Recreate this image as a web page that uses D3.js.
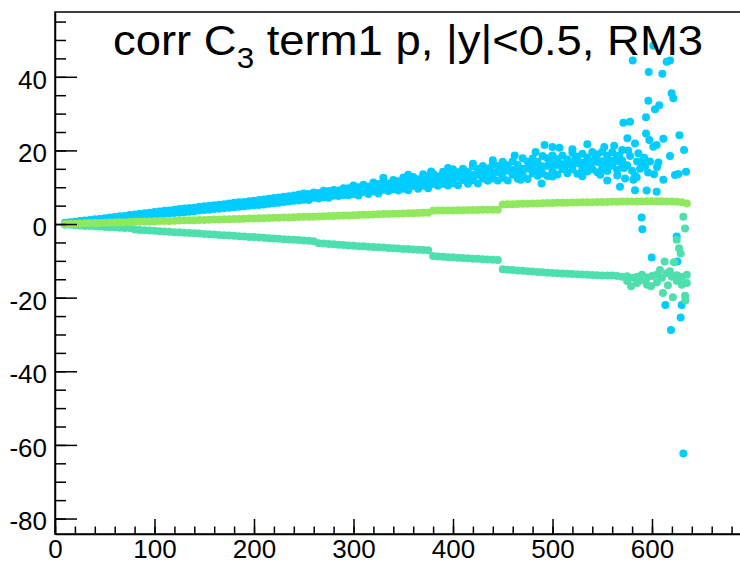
<!DOCTYPE html>
<meta charset="utf-8">
<script src="https://d3js.org/d3.v7.min.js"></script>
<style>
  body { margin: 0; background: #fff; }
</style>
<div id="chart"></div>
<script>

// bin centres shared by the three series
var xs = [10,15,20,25,30,35,40,45,50,55,60,65,70,75,
  80,85,90,95,100,105,110,115,120,125,130,135,140,145,
  150,155,160,165,170,175,180,185,190,195,200,205,210,215,
  220,225,230,235,240,245,250,255,260,265,270,275,280,285,
  290,295,300,305,310,315,320,325,330,335,340,345,350,355,
  360,365,370,375,380,385,390,395,400,405,410,415,420,425,
  430,435,440,445,450,455,460,465,470,475,480,485,490,495,
  500,505,510,515,520,525,530,535,540,545,550,555,560,565,
  570,575,580,585,590,595,600,605,610,615,620,625,630,635];

var green = [0.0,0.05,0.1,0.15,0.2,0.25,0.3,0.3,0.35,0.4,0.45,0.5,0.5,0.55,
  0.6,0.65,0.7,0.7,0.75,0.8,0.8,0.85,0.9,0.95,1.0,1.0,1.05,1.1,
  1.1,1.15,1.2,1.25,1.3,1.3,1.35,1.4,1.45,1.5,1.5,1.55,1.6,1.65,
  1.7,1.7,1.75,1.8,1.85,1.9,1.95,2.0,2.0,2.05,2.1,2.15,2.2,2.25,
  2.3,2.35,2.4,2.45,2.5,2.55,2.6,2.65,2.7,2.75,2.8,2.8,2.85,2.9,
  2.95,3.0,3.05,3.1,3.6,3.65,3.65,3.7,3.7,3.75,3.75,3.8,3.8,3.8,
  3.85,3.85,3.9,3.9,5.3,5.35,5.4,5.45,5.5,5.5,5.55,5.6,5.65,5.7,
  5.7,5.75,5.8,5.8,5.85,5.85,5.9,5.9,5.95,6.0,6.0,6.0,6.05,6.05,
  6.1,6.1,6.1,6.15,6.15,6.2,6.2,6.2,6.2,6.15,6.1,6.05,5.9,5.6];

var teal = [-0.1,-0.2,-0.3,-0.4,-0.5,-0.55,-0.6,-0.7,-0.8,-0.85,-0.9,-1.0,-1.05,-1.1,
  -1.5,-1.6,-1.7,-1.75,-1.85,-1.95,-2.0,-2.1,-2.2,-2.25,-2.35,-2.45,-2.5,-2.6,
  -2.7,-2.8,-2.85,-2.95,-3.05,-3.1,-3.2,-3.3,-3.4,-3.5,-3.55,-3.65,-3.75,-3.85,
  -3.9,-4.0,-4.1,-4.2,-4.3,-4.35,-4.45,-4.55,-4.65,-5.2,-5.3,-5.4,-5.5,-5.6,
  -5.7,-5.8,-5.9,-6.0,-6.05,-6.15,-6.25,-6.3,-6.4,-6.5,-6.55,-6.65,-6.75,-6.8,
  -6.9,-7.0,-7.05,-7.15,-8.7,-8.8,-8.9,-9.0,-9.05,-9.15,-9.2,-9.3,-9.4,-9.45,
  -9.55,-9.6,-9.7,-9.8,-12.3,-12.4,-12.5,-12.6,-12.7,-12.8,-12.9,-13.0,-13.1,-13.2,
  -13.3,-13.35,-13.45,-13.5,-13.6,-13.65,-13.7,-13.8,-13.85,-13.9,-13.95,-14.0,-14.0,-14.1,
  -14.3,-14.2,-14.6,-14.3,-13.8,-14.5,-14.1,-13.7,-14.6,-13.4,-14.3,-13.9,-14.4,-13.8];

// cyan band: upper, lower and middle samples per bin (x = 10 .. 570)
var cyanHi = [0.35,0.5,0.65,0.8,0.95,1.1,1.3,1.4,1.6,1.75,1.9,2.1,2.2,2.45,
  2.6,2.8,2.9,3.1,3.3,3.4,3.6,3.7,3.9,4.1,4.2,4.35,4.45,4.7,
  4.8,5.0,5.1,5.25,5.4,5.6,5.75,5.9,6.0,6.2,6.3,6.5,6.7,6.85,
  7.1,7.2,7.4,7.55,7.75,8.0,8.3,8.15,8.55,8.4,9.05,8.95,9.25,9.1,
  9.7,9.7,10.45,10.0,10.65,10.2,11.3,10.85,11.5,11.0,11.95,11.65,12.65,12.05,
  12.8,12.2,13.55,12.9,13.65,13.0,14.2,13.8,14.85,14.05,15.0,14.15,15.8,14.95,
  15.8,14.95,16.3,15.85,16.95,16.0,17.05,16.05,17.9,16.9,17.8,16.9,18.45,17.9,
  18.65,17.6,18.6,17.55,19.35,18.3,19.1,18.1,19.6,18.95,19.65,18.55,19.5,18.4,
  20.1];
var cyanLo = [-0.15,0.0,0.15,0.3,0.45,0.55,0.7,0.85,1.0,1.1,1.3,1.4,1.55,1.7,
  1.9,2.0,2.2,2.3,2.5,2.6,2.7,2.9,3.0,3.1,3.2,3.35,3.5,3.65,
  3.8,3.9,4.1,4.15,4.3,4.4,4.55,4.7,4.8,4.95,5.1,5.2,5.3,5.5,
  5.65,5.8,6.0,6.1,6.3,6.4,6.6,6.55,7.15,6.95,7.3,7.15,7.7,7.65,
  7.9,7.85,8.1,7.75,8.7,8.15,8.85,8.3,9.3,8.95,9.45,9.1,9.6,9.15,
  10.3,9.6,10.4,9.7,10.9,10.4,10.95,10.45,11.1,10.55,11.9,10.95,11.9,11.0,
  12.4,11.75,12.35,11.8,12.55,11.85,13.4,12.3,13.35,12.25,13.8,13.1,13.75,13.05,
  14.25,13.45,14.95,13.8,14.8,13.65,15.1,14.3,14.9,14.1,15.2,14.4,15.85,14.65,
  15.55];
var cyanMid = [0.1,0.3,0.35,0.6,0.7,0.9,0.95,1.2,1.3,1.5,1.55,1.8,1.9,2.1,
  2.2,2.45,2.5,2.75,2.85,3.05,3.1,3.35,3.4,3.65,3.7,3.9,3.95,4.2,
  4.25,4.5,4.55,4.75,4.8,5.05,5.1,5.35,5.4,5.6,5.65,5.9,6.0,6.25,
  6.3,6.55,6.65,6.9,6.95,7.25,7.3,7.55,7.65,7.9,7.95,8.25,8.3,8.55,
  8.65,8.9,9.05,9.15,9.4,9.5,9.75,9.85,10.15,10.2,10.5,10.55,10.85,10.95,
  11.2,11.3,11.55,11.65,11.95,12.0,12.3,12.35,12.65,12.75,13.0,13.05,13.35,13.4,
  13.7,13.75,14.0,14.1,14.35,14.45,14.7,14.75,15.05,15.1,15.35,15.45,15.7,15.8,
  16.05,16.05,16.25,16.25,16.5,16.5,16.65,16.65,16.85,16.85,17.05,17.0,17.15,17.1,
  17.25];

// single cyan points off the band and in the scattered region near the end
var cyanPts = [[330,12.6],[355,13.4],[378,14.3],[395,15.2],[420,16.4],[440,17.3],
  [462,18.6],[483,19.6],[492,21.5],[500,20.9],[507,20.7],[520,20.3],[535,21.7],
  [552,20.9],[562,21.3],[468,12.0],[489,11.0],[500,12.9],[530,13.0],[548,13.4],
  [555,11.8],[565,13.2],[372,12.6],[388,11.2],[403,13.8],[418,12.3],[437,15.2],
  [452,15.8],[466,13.4],[478,16.8],[487,14.0],[497,17.3],[512,15.0],[523,17.8],
  [533,15.4],[543,18.0],[557,15.9],[567,18.6],
  [572,15.2],[575,16],[576,20],[578,18.5],[580,14.5],
  [583,13.2],[585,17],[588,15],[592,18],[596,14],[598,17],[602,13.5],[605,15.5],
  [580.6,44.4],[596.7,41.3],[610.4,40.8],[614.7,44.1],[618.1,44.4],[601.3,48.4],
  [619.7,35.5],[621.4,34.2],[596.3,33.5],[603,31.2],[607.3,32.3],[594,29],
  [571.2,27.5],[577.9,27.8],[575.3,23.3],[594,24.6],[597.3,22.8],[601.3,21],
  [604.7,21.5],[611.4,23.2],[627.5,24.1],[632.2,20.1],[618.1,18.5],[606.4,16.7],
  [582.9,21.9],[586.3,19.2],[589.6,16.9],[593,15.6],[634.2,14.2],[626.5,13.6],
  [623.1,13.3],[611.4,12],[567.8,10.1],[572.9,12.4],[581.2,12],[584.6,12.7],
  [582.9,9.2],[594.6,9.1],[604.7,8.8],[589.6,1.8],[590.3,-1.4],[599.7,-9.1],
  [624.8,-3.4],[625.5,-10.2],[613.4,-22],[629.8,-22],[628.8,-25.4],[619.1,-28.8],
  [631.5,-62.3]];

var tealPts = [[631.5,2.0],[633.2,-1.2],[624.8,-4.3],[627.1,-6.6],[628.8,-8.0],
  [612.7,-10.2],[622.1,-10.4],[616,-16.6],[611,-18.7],[621,-19.9],[633.2,-19.5],
  [633.5,-20.8],[579,-16.9],[599,-16.9],[575,-15.5],[585,-16],[590,-15.2],
  [595,-16.5],[605,-15.8],[608,-12.5],[618,-12.8],[625,-15.5],[630,-16.5],[635,-16]];

var xTicks = [0,100,200,300,400,500,600];
var xTickLabels = ["0","100","200","300","400","500","600"];
var yTicks = [-80,-60,-40,-20,0,20,40];
var yTickLabels = ["-80","-60","-40","-20","0","20","40"];

var colCyan = "#00ccff", colTeal = "#4ddfae", colGreen = "#90e85e";

var W = 740, H = 564;
var padL = 55, padT = 12, padB = 534, frameW = 696.5;

var svg = d3.select("#chart").append("svg")
  .attr("width", W).attr("height", H)
  .style("font-family", "'Liberation Sans', Arial, Helvetica, sans-serif");

var x = d3.scaleLinear().domain([0, 700]).range([padL, padL + frameW]);
var y = d3.scaleLinear().domain([-84.2, 57.6]).range([padB, padT]);

function pairs(vals) {
  return vals.map(function(v, i) { return [xs[i], v]; });
}

function dots(data, col) {
  svg.append("g").selectAll("circle")
    .data(data).enter().append("circle")
      .attr("cx", function(d) { return x(d[0]); })
      .attr("cy", function(d) { return y(d[1]); })
      .attr("r", 4)
      .attr("fill", col);
}

dots(pairs(cyanHi), colCyan);
dots(pairs(cyanLo), colCyan);
dots(pairs(cyanMid), colCyan);
dots(cyanPts, colCyan);
dots(pairs(teal), colTeal);
dots(tealPts, colTeal);
dots(pairs(green), colGreen);

// frame
svg.append("rect")
  .attr("x", padL).attr("y", padT)
  .attr("width", frameW).attr("height", padB - padT)
  .attr("fill", "none").attr("stroke", "#000").attr("stroke-width", 1.5);

// x axis, minor then major
var gxm = svg.append("g").attr("transform", "translate(0," + padB + ")")
  .call(d3.axisBottom(x).tickValues(d3.range(0, 701, 20)).tickSize(-7.5).tickFormat(""));
gxm.select(".domain").remove();

var gx = svg.append("g").attr("transform", "translate(0," + padB + ")")
  .call(d3.axisBottom(x).tickValues(xTicks).tickSize(-15).tickSizeOuter(0).tickPadding(6)
    .tickFormat(function(d, i) { return xTickLabels[i]; }));

// y axis
var gym = svg.append("g").attr("transform", "translate(" + padL + ",0)")
  .call(d3.axisLeft(y).tickValues(d3.range(-80, 56, 5)).tickSize(-11).tickFormat(""));
gym.select(".domain").remove();

var gy = svg.append("g").attr("transform", "translate(" + padL + ",0)")
  .call(d3.axisLeft(y).tickValues(yTicks).tickSize(-22).tickSizeOuter(0).tickPadding(8)
    .tickFormat(function(d, i) { return yTickLabels[i]; }));
gy.selectAll("text").attr("dy", "0.44em");

svg.selectAll(".tick line, .domain").attr("stroke", "#000").attr("stroke-width", 1.5);
svg.selectAll(".tick text")
  .attr("fill", "#000")
  .style("font-family", "'Liberation Sans', Arial, sans-serif")
  .style("font-size", "26px");

// title
var title = svg.append("text")
  .attr("x", 113).attr("y", 55)
  .attr("textLength", 590).attr("lengthAdjust", "spacingAndGlyphs")
  .style("font-size", "42px").attr("fill", "#000");
title.append("tspan").text("corr C");
title.append("tspan").attr("dy", 13).style("font-size", "29px").text("3");
title.append("tspan").attr("dy", -13).text(" term1 p, |y|<0.5, RM3");

</script>
